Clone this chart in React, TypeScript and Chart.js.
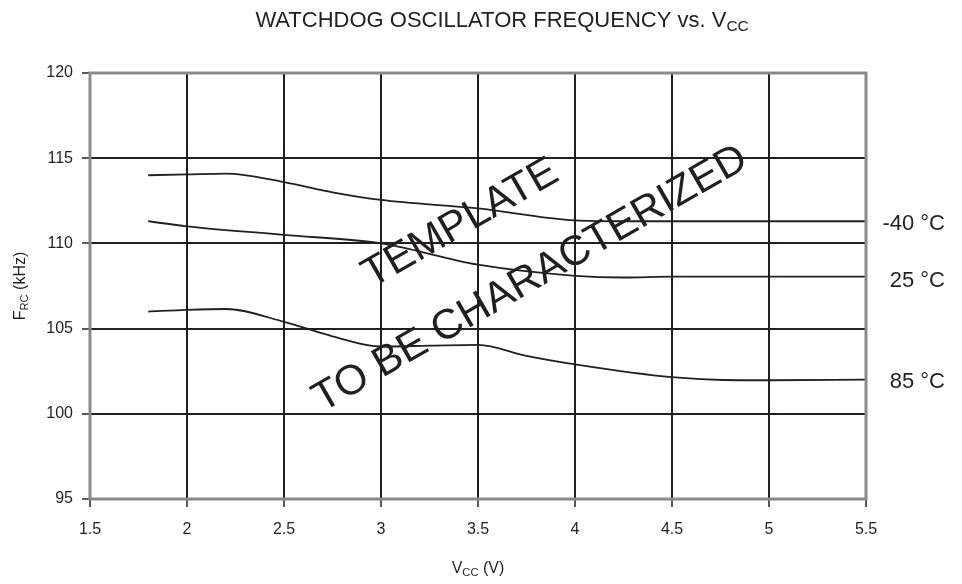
import React, { useEffect, useRef } from "react";
import { Chart, registerables } from "chart.js";

Chart.register(...registerables);

const xTicks = [1.5, 2, 2.5, 3, 3.5, 4, 4.5, 5, 5.5];
const yTicks = [95, 100, 105, 110, 115, 120];

const vccM40 = [1.8, 2.0, 2.2, 2.5, 2.75, 3.0, 3.5, 4.0, 4.25, 4.5, 5.0, 5.5];
const freqM40 = [114.0, 114.05, 114.1, 113.6, 113.0, 112.55, 112.05, 111.35, 111.3, 111.3, 111.3, 111.3];

const vcc25 = [1.8, 2.0, 2.5, 3.0, 3.5, 4.0, 4.25, 4.5, 5.0, 5.5];
const freq25 = [111.3, 111.0, 110.5, 110.0, 108.75, 108.1, 108.0, 108.05, 108.05, 108.05];

const vcc85 = [1.8, 2.0, 2.2, 2.5, 2.75, 3.0, 3.25, 3.5, 3.75, 4.0, 4.5, 4.85, 5.0, 5.5];
const freq85 = [106.0, 106.1, 106.15, 105.4, 104.55, 103.95, 104.0, 104.05, 103.4, 102.9, 102.15, 101.97, 101.97, 102.0];

const seriesLabels = ["-40 °C", "25 °C", "85 °C"];
const seriesLabelY = [111.2, 107.85, 101.9];

const titleParts = [
  { t: "WATCHDOG OSCILLATOR FREQUENCY vs. V", sub: false },
  { t: "CC", sub: true },
];
const xTitleParts = [
  { t: "V", sub: false },
  { t: "CC", sub: true },
  { t: " (V)", sub: false },
];
const yTitleParts = [
  { t: "F", sub: false },
  { t: "RC", sub: true },
  { t: " (kHz)", sub: false },
];
const watermark1 = "TEMPLATE";
const watermark2 = "TO BE CHARACTERIZED";

const FONT = "'Liberation Sans', Arial, Helvetica, sans-serif";
const INK = "#231f20";

function pts(xs: number[], ys: number[]) {
  return xs.map((x, i) => ({ x, y: ys[i] }));
}

function richWidth(ctx: CanvasRenderingContext2D, parts: { t: string; sub: boolean }[], size: number) {
  let w = 0;
  for (const p of parts) {
    ctx.font = `${p.sub ? size * 0.7 : size}px ${FONT}`;
    w += ctx.measureText(p.t).width;
  }
  return w;
}

function drawRich(
  ctx: CanvasRenderingContext2D,
  parts: { t: string; sub: boolean }[],
  cx: number,
  baseline: number,
  size: number
) {
  const w = richWidth(ctx, parts, size);
  let x = cx - w / 2;
  ctx.textAlign = "left";
  ctx.textBaseline = "alphabetic";
  for (const p of parts) {
    const s = p.sub ? size * 0.7 : size;
    ctx.font = `${s}px ${FONT}`;
    ctx.fillText(p.t, x, baseline + (p.sub ? size * 0.2 : 0));
    x += ctx.measureText(p.t).width;
  }
}

const textPlugin = {
  id: "textPlugin",
  afterDraw(chart: any) {
    const ctx: CanvasRenderingContext2D = chart.ctx;
    const { left, right, top, bottom } = chart.chartArea;
    const xs = chart.scales.x;
    const ys = chart.scales.y;
    ctx.save();
    // frame
    ctx.strokeStyle = "#8a8a8a";
    ctx.lineWidth = 3;
    ctx.strokeRect(left, top, right - left, bottom - top);

    ctx.fillStyle = INK;
    // title
    drawRich(ctx, titleParts, 502, 27, 22);
    // x title
    drawRich(ctx, xTitleParts, (left + right) / 2, 573, 16);
    // y title
    ctx.save();
    ctx.translate(25, (top + bottom) / 2);
    ctx.rotate(-Math.PI / 2);
    drawRich(ctx, yTitleParts, 0, 0, 16);
    ctx.restore();

    // series labels
    ctx.font = `22px ${FONT}`;
    ctx.textAlign = "right";
    ctx.textBaseline = "middle";
    seriesLabels.forEach((s, i) => {
      ctx.fillText(s, 945, ys.getPixelForValue(seriesLabelY[i]) + 1);
    });

    // watermark
    const ang = (-30 * Math.PI) / 180;
    ctx.font = `42px ${FONT}`;
    ctx.textAlign = "center";
    ctx.textBaseline = "middle";
    ctx.save();
    ctx.translate(xs.getPixelForValue(3.41), ys.getPixelForValue(111.15));
    ctx.rotate(ang);
    ctx.fillText(watermark1, 0, 0);
    ctx.restore();
    ctx.save();
    ctx.translate(xs.getPixelForValue(3.77), ys.getPixelForValue(107.9));
    ctx.rotate(ang);
    ctx.fillText(watermark2, 0, 0);
    ctx.restore();

    ctx.restore();
  },
};

export default function App() {
  const ref = useRef<HTMLCanvasElement | null>(null);
  useEffect(() => {
    if (!ref.current) return;
    const lineDs = (data: { x: number; y: number }[]) => ({
      data,
      showLine: true,
      borderColor: INK,
      borderWidth: 1.8,
      pointRadius: 0,
      tension: 0.4,
      cubicInterpolationMode: "monotone" as const,
      fill: false,
    });
    const chart = new Chart(ref.current, {
      type: "scatter",
      data: {
        datasets: [
          lineDs(pts(vccM40, freqM40)),
          lineDs(pts(vcc25, freq25)),
          lineDs(pts(vcc85, freq85)),
        ],
      },
      options: {
        animation: false,
        responsive: false,
        devicePixelRatio: 1,
        layout: { padding: { left: 0, top: 73, right: 96, bottom: 0 } },
        plugins: { legend: { display: false }, title: { display: false }, tooltip: { enabled: false } },
        scales: {
          x: {
            type: "linear",
            min: 1.5,
            max: 5.5,
            afterBuildTicks: (s: any) => {
              s.ticks = xTicks.map((v) => ({ value: v }));
            },
            afterFit: (s: any) => {
              s.height = 85;
            },
            ticks: {
              color: INK,
              font: { family: FONT, size: 16 },
              padding: 13,
              maxRotation: 0,
              callback: (v: any) => String(v),
            },
            grid: { color: INK, lineWidth: 2, tickLength: 8, tickColor: INK, tickWidth: 1.5 },
            border: { display: false },
          },
          y: {
            type: "linear",
            min: 95,
            max: 120,
            afterBuildTicks: (s: any) => {
              s.ticks = yTicks.map((v) => ({ value: v }));
            },
            afterFit: (s: any) => {
              s.width = 90;
            },
            ticks: {
              color: INK,
              font: { family: FONT, size: 16 },
              padding: 9,
              callback: (v: any) => String(v),
            },
            grid: { color: INK, lineWidth: 2, tickLength: 8, tickColor: INK, tickWidth: 1.5 },
            border: { display: false },
          },
        },
      },
      plugins: [textPlugin],
    });
    return () => chart.destroy();
  }, []);
  return (
    <div style={{ position: "fixed", left: 0, top: 0, width: 962, height: 584, background: "#fff" }}>
      <canvas ref={ref} width={962} height={584} style={{ width: 962, height: 584 }} />
    </div>
  );
}
